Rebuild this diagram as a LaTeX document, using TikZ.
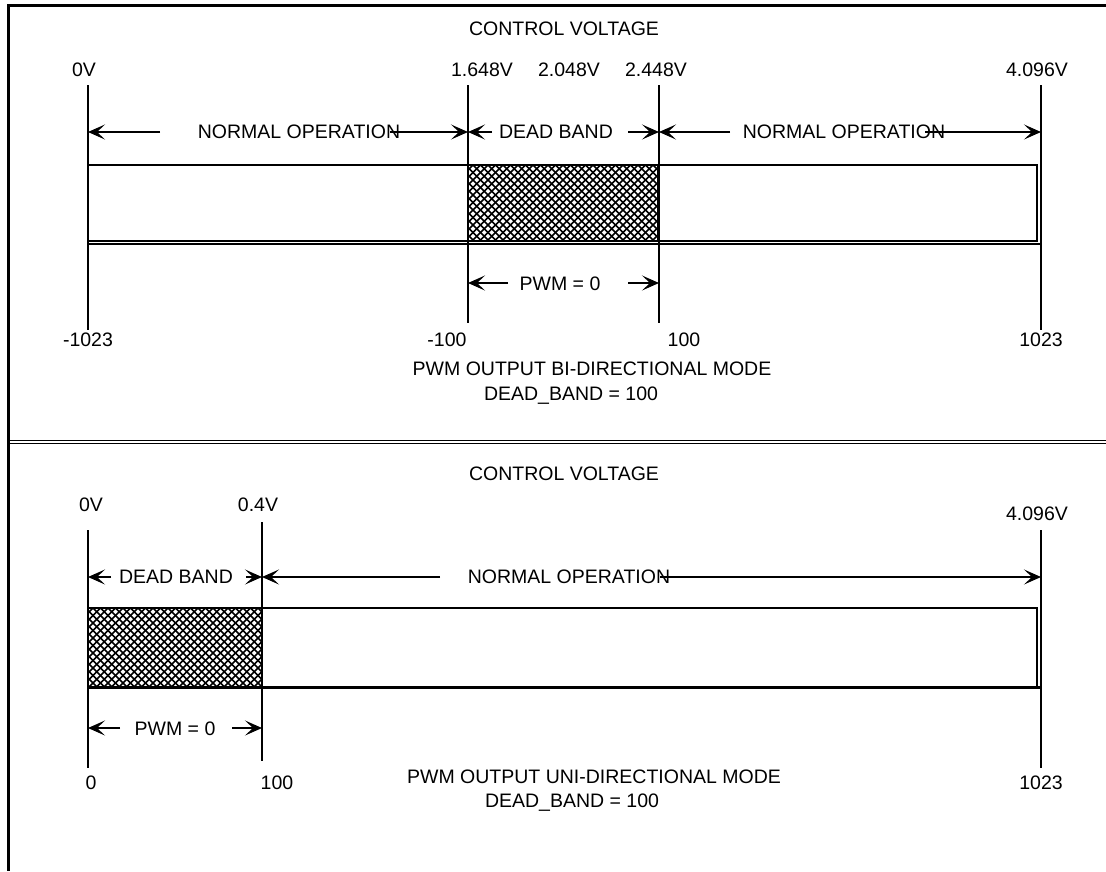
\documentclass[tikz,border=0pt]{standalone}
\usepackage{fontspec}
\setmainfont{Liberation Sans}
\usetikzlibrary{arrows.meta}
\begin{document}
\begin{tikzpicture}[x=1pt,y=-1pt,
  lbl/.style={inner sep=0pt,anchor=base,font=\fontsize{19.5}{22}\selectfont},
  vline/.style={line width=1.8pt},
  dim/.style={line width=1.5pt,-{Stealth[length=17pt,width=15pt,inset=8pt]}},
  barline/.style={line width=2.2pt},
  hatchline/.style={line width=1.5pt},
  border/.style={line width=3pt},
  sepline/.style={line width=1.3pt}]
\useasboundingbox (0,0) rectangle (1106,871);

% ---------- frame ----------
\coordinate (fTL) at (8.5,5.5);
\coordinate (fTR) at (1106,5.5);
\coordinate (fBL) at (8.5,871);
\draw[border] (fTR) -- (fTL) -- (fBL);
\coordinate (s1a) at (8.5,440.5); \coordinate (s1b) at (1106,440.5);
\coordinate (s2a) at (8.5,443.8); \coordinate (s2b) at (1106,443.8);
\draw[sepline] (s1a) -- (s1b);
\draw[sepline] (s2a) -- (s2b);

% ================= TOP PANEL =================
\node[lbl] (cv1) at (564,35) {CONTROL VOLTAGE};
\node[lbl] (v0)  at (84,76) {0V};
\node[lbl] (v1)  at (482,76) {1.648V};
\node[lbl] (v2)  at (569,76) {2.048V};
\node[lbl] (v3)  at (656,76) {2.448V};
\node[lbl] (v4)  at (1037,76) {4.096V};

% vertical lines
\coordinate (aT) at (88,85);   \coordinate (aB) at (88,330);
\coordinate (bT) at (468,85);  \coordinate (bB) at (468,323);
\coordinate (cT) at (659,85);  \coordinate (cB) at (659,323);
\coordinate (dT) at (1041,85); \coordinate (dB) at (1041,330);

% hatch
\begin{scope}
\clip (468,165) rectangle (658,241);
\foreach \s in {-85,-77.5,...,280} {
  \draw[hatchline] (468+\s,165) -- +(80,80);
  \draw[hatchline] (468+\s,165) -- +(-80,80);
}
\end{scope}
% bar
\draw[barline] (88,165) rectangle (1037,241);
\coordinate (bar1a) at (88,244); \coordinate (bar1b) at (1041,244);
\draw[barline] (bar1a) -- (bar1b);
\draw[barline] (468,165) -- (468,241);
\draw[barline] (658,165) -- (658,241);

\draw[vline] (aT) -- (aB);
\draw[vline] (bT) -- (bB);
\draw[vline] (cT) -- (cB);
\draw[vline] (dT) -- (dB);

% dimension row
\node[lbl] (no1) at (299,138) {NORMAL OPERATION};
\coordinate (no1l) at (160,132);
\coordinate (no1r) at (390,132);
\draw[dim] (no1l) -- (no1l -| aT);
\draw[dim] (no1r) -- (no1r -| bT);

\node[lbl] (db1) at (556,138) {DEAD BAND};
\coordinate (db1l) at (492,132);
\coordinate (db1r) at (628,132);
\draw[dim] (db1l) -- (db1l -| bT);
\draw[dim] (db1r) -- (db1r -| cT);

\node[lbl] (no2) at (844,138) {NORMAL OPERATION};
\coordinate (no2l) at (730,132);
\coordinate (no2r) at (925,132);
\draw[dim] (no2l) -- (no2l -| cT);
\draw[dim] (no2r) -- (no2r -| dT);

% PWM = 0
\node[lbl] (pw1) at (560,290) {PWM = 0};
\coordinate (pw1l) at (508,283);
\coordinate (pw1r) at (628,283);
\draw[dim] (pw1l) -- (pw1l -| bT);
\draw[dim] (pw1r) -- (pw1r -| cT);

% bottom labels
\node[lbl] (m1023) at (88,346) {-1023};
\node[lbl] (m100)  at (447,346) {-100};
\node[lbl] (p100)  at (684,346) {100};
\node[lbl] (p1023) at (1041,346) {1023};
\node[lbl] (t1)  at (592,375) {PWM OUTPUT BI-DIRECTIONAL MODE};
\node[lbl] (d1)  at (571,400) {DEAD\_BAND = 100};

% ================= BOTTOM PANEL =================
\node[lbl] (cv2) at (564,480) {CONTROL VOLTAGE};
\node[lbl] (u0)  at (91,511) {0V};
\node[lbl] (u1)  at (258,511) {0.4V};
\node[lbl] (u2)  at (1037,520) {4.096V};

\coordinate (eT) at (88,530);   \coordinate (eB) at (88,768);
\coordinate (fT) at (262,522);  \coordinate (fB) at (262,761);
\coordinate (gT) at (1041,530); \coordinate (gB) at (1041,768);

\begin{scope}
\clip (88,608) rectangle (262,687);
\foreach \s in {-85,-77.5,...,260} {
  \draw[hatchline] (88+\s,608) -- +(85,85);
  \draw[hatchline] (88+\s,608) -- +(-85,85);
}
\end{scope}
\draw[barline] (88,608) rectangle (1037,687);
\coordinate (bar2a) at (88,687.5); \coordinate (bar2b) at (1041,687.5);
\draw[barline] (bar2a) -- (bar2b);

\draw[vline] (eT) -- (eB);
\draw[vline] (fT) -- (fB);
\draw[vline] (gT) -- (gB);

\node[lbl] (db2) at (176,583) {DEAD BAND};
\coordinate (db2l) at (111,577);
\coordinate (db2r) at (246,577);
\draw[dim] (db2l) -- (db2l -| eT);
\draw[dim] (db2r) -- (db2r -| fT);

\node[lbl] (no3) at (569,583) {NORMAL OPERATION};
\coordinate (no3l) at (440,577);
\coordinate (no3r) at (660,577);
\draw[dim] (no3l) -- (no3l -| fT);
\draw[dim] (no3r) -- (no3r -| gT);

\node[lbl] (pw2) at (175,735) {PWM = 0};
\coordinate (pw2l) at (120,728);
\coordinate (pw2r) at (232,728);
\draw[dim] (pw2l) -- (pw2l -| eT);
\draw[dim] (pw2r) -- (pw2r -| fT);

\node[lbl] (z0)    at (91,789) {0};
\node[lbl] (z100)  at (277,789) {100};
\node[lbl] (z1023) at (1041,789) {1023};
\node[lbl] (t2)  at (594,783) {PWM OUTPUT UNI-DIRECTIONAL MODE};
\node[lbl] (d2)  at (572,807) {DEAD\_BAND = 100};
\end{tikzpicture}
\end{document}
